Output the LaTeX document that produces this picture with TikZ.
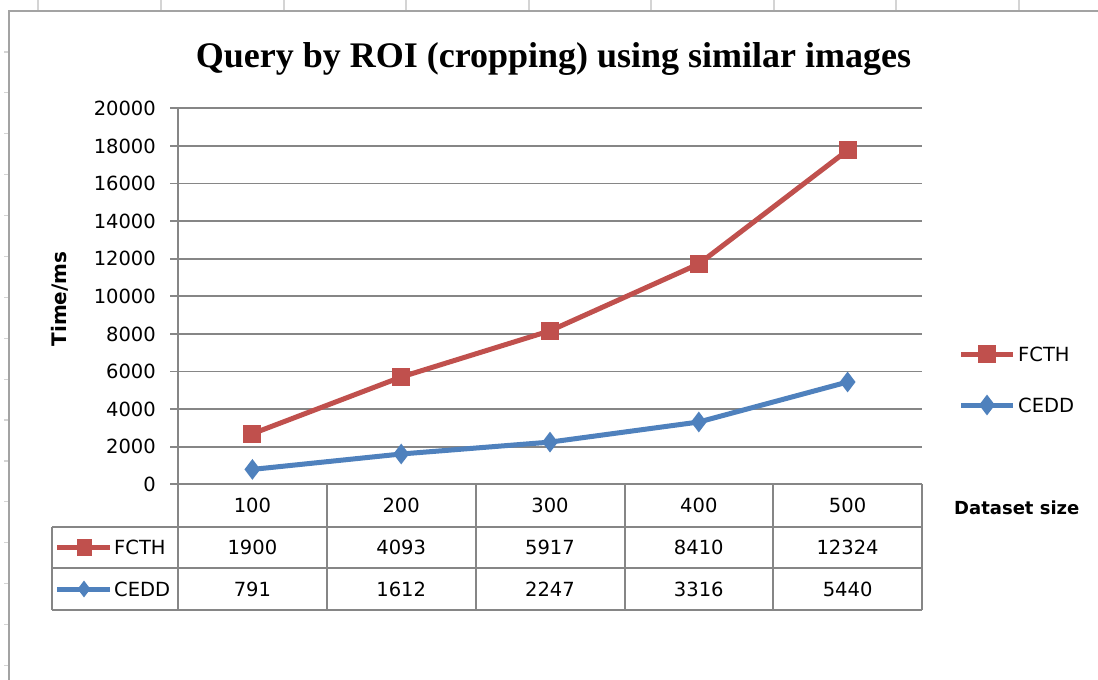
\documentclass[tikz,border=0pt]{standalone}
\usepackage{fontspec}
\setmainfont{DejaVu Sans}
\newfontfamily\titlefont{Liberation Serif}
\usetikzlibrary{shapes.geometric}
\pgfdeclarelayer{series}
\pgfdeclarelayer{marks}
\pgfsetlayers{main,series,marks}
\definecolor{fcth}{HTML}{C0504D}
\definecolor{cedd}{HTML}{4F81BD}
\definecolor{gridgrey}{HTML}{868686}
\definecolor{framegrey}{HTML}{A3A3A3}
\definecolor{cellgrey}{HTML}{D4D4D4}
\tikzset{
  gridline/.style={draw=gridgrey, line width=1.8pt},
  sqmark/.style={rectangle, fill=fcth, minimum width=18pt, minimum height=18pt, inner sep=0pt},
  dmmark/.style={diamond, fill=cedd, minimum width=16pt, minimum height=21pt, inner sep=0pt},
  sqkey/.style={rectangle, fill=fcth, minimum width=15pt, minimum height=17pt, inner sep=0pt},
  dmkey/.style={diamond, fill=cedd, minimum width=13pt, minimum height=17pt, inner sep=0pt},
  fline/.style={draw=fcth, line width=5pt, line join=round, line cap=round},
  cline/.style={draw=cedd, line width=5pt, line join=round, line cap=round},
  keyline/.style={line width=5pt},
  txt/.style={font=\fontsize{19.5}{20}\selectfont, inner sep=0pt, text=black},
  boldtxt/.style={font=\fontsize{18}{20}\selectfont\bfseries, inner sep=0pt, text=black},
}
\begin{document}
\begin{tikzpicture}[x=1pt, y=-1pt]
\useasboundingbox (0,0) rectangle (1098,680);
\fill[white] (0,0) rectangle (1098,680);

% worksheet cell lines around the chart object
\foreach \x in {38,161,284,406,529,651,774,896,1019}
  \draw[cellgrey, line width=1.5pt] (\x,0) -- (\x,11);
\foreach \k in {1,...,16}
  \draw[cellgrey, line width=1.2pt] (4,11+40.9*\k) -- (9,11+40.9*\k);
\draw[framegrey, line width=2.5pt] (9,680) -- (9,11) -- (1098,11);

% title
\node[font=\titlefont\fontsize{36}{40}\selectfont\bfseries, anchor=base, inner sep=0pt]
  (title) at (553.5,67) {Query by ROI (cropping) using similar images};

% value axis: gridlines and tick labels
\foreach \k/\val in {0/0,1/2000,2/4000,3/6000,4/8000,5/10000,6/12000,7/14000,8/16000,9/18000,10/20000} {
  \pgfmathsetmacro\yy{484.3-37.6*\k}
  \draw[gridline] (170,\yy) -- (922,\yy);
  \node[txt, anchor=east] (tick\k) at (156,\yy) {\val};
}
\node[boldtxt, font=\fontsize{20}{20}\selectfont\bfseries, rotate=90] (ylabel) at (60,299) {Time/ms};

% data table
\draw[gridline] (178,108.3) -- (178,610);
\foreach \x in {327,476,625,773,922}
  \draw[gridline] (\x,484.3) -- (\x,610);
\draw[gridline] (52,527) -- (52,610);
\foreach \y in {527,568,610}
  \draw[gridline] (52,\y) -- (922,\y);

\foreach \x/\n/\a/\b [count=\i] in {252.4/100/1900/791, 401.2/200/4093/1612,
    550/300/5917/2247, 698.8/400/8410/3316, 847.6/500/12324/5440} {
  \node[txt] (cat\i) at (\x,505.6) {\n};
  \node[txt] (fval\i) at (\x,547.5) {\a};
  \node[txt] (cval\i) at (\x,589) {\b};
}
\node[boldtxt, anchor=west] (xlabel) at (954,508) {Dataset size};

% table row keys
\coordinate (fka) at (57,547.5);
\coordinate (fkb) at (110,547.5);
\coordinate (cka) at (57,589);
\coordinate (ckb) at (110,589);
\draw[fcth, keyline] (fka) -- (fkb);
\draw[cedd, keyline] (cka) -- (ckb);
\node[sqkey] (fkey) at (84,547.5) {};
\node[dmkey] (ckey) at (84,589) {};
\node[txt, anchor=west] (fname) at (114,547.5) {FCTH};
\node[txt, anchor=west] (cname) at (114,589) {CEDD};

% legend
\coordinate (fla) at (961,354);
\coordinate (flb) at (1013,354);
\coordinate (cla) at (961,405);
\coordinate (clb) at (1013,405);
\draw[fcth, keyline] (fla) -- (flb);
\draw[cedd, keyline] (cla) -- (clb);
\node[sqmark] (fleg) at (987,354) {};
\node[dmmark] (cleg) at (987,405) {};
\node[txt, anchor=west] (flegtext) at (1018,354) {FCTH};
\node[txt, anchor=west] (clegtext) at (1018,405) {CEDD};

% series markers (FCTH stacked on CEDD)
\begin{pgfonlayer}{marks}
  \foreach \x/\y [count=\i] in {252.4/433.7, 401.2/377.0, 550/330.8, 698.8/263.9, 847.6/150.3}
    \node[sqmark] (f\i) at (\x,\y) {};
  \foreach \x/\y [count=\i] in {252.4/469.4, 401.2/454.0, 550/442.1, 698.8/422.0, 847.6/382.0}
    \node[dmmark] (c\i) at (\x,\y) {};
\end{pgfonlayer}

% series lines
\begin{pgfonlayer}{series}
  \draw[fline] (f1.center) -- (f2.center) -- (f3.center) -- (f4.center) -- (f5.center);
  \draw[cline] (c1.center) -- (c2.center) -- (c3.center) -- (c4.center) -- (c5.center);
\end{pgfonlayer}
\end{tikzpicture}
\end{document}
